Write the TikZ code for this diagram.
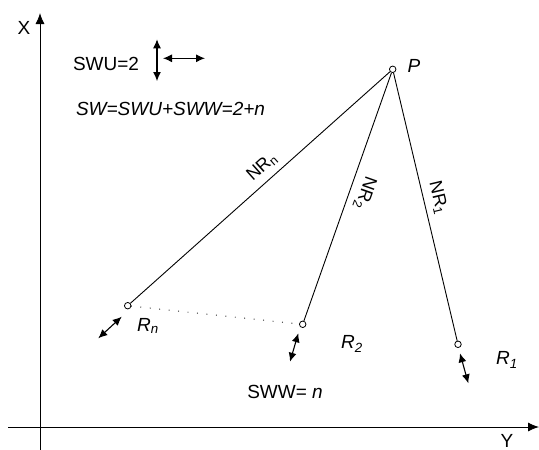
\documentclass[tikz,border=0pt]{standalone}
\usepackage{fontspec}
\setmainfont{Liberation Sans}
\usetikzlibrary{arrows.meta}
\tikzset{
  txt/.style={inner sep=0pt, font=\fontsize{19}{22}\selectfont},
  itxt/.style={inner sep=0pt, font=\fontsize{19}{22}\selectfont\itshape},
  lbl/.style={inner sep=0pt, font=\fontsize{18}{20}\selectfont},
  pt/.style={circle, draw, fill=white, minimum size=6.5pt, inner sep=0pt, line width=0.8pt},
  link/.style={line width=0.9pt},
  axis/.style={line width=0.9pt, -{Latex[length=11pt,width=9pt]}},
  dbl/.style={line width=1.1pt, {Latex[length=9pt,width=8pt]}-{Latex[length=9pt,width=8pt]}}
}
\begin{document}
\begin{tikzpicture}[x=1pt,y=-1pt]
\useasboundingbox (0,0) rectangle (539,450);
% axes
\coordinate (yb) at (40,450);
\coordinate (yt) at (40,13);
\coordinate (xl) at (8,427);
\coordinate (xr) at (539,427);
\draw[axis] (yb) -- (yt);
\draw[axis] (xl) -- (xr);
\node[txt] (X) at (24,28) {X};
\node[txt] (Y) at (507,441) {Y};
% points
\node[pt] (P) at (392.7,69.3) {};
\node[pt] (Rn) at (127.7,305.7) {};
\node[pt] (R2) at (302.7,324.3) {};
\node[pt] (R1) at (458,344.3) {};
\draw[link] (P) -- (Rn);
\draw[link] (P) -- (R2);
\draw[link] (P) -- (R1);
\draw[line width=1.2pt, line cap=round, dash pattern=on 0pt off 9.5pt] (Rn) -- (R2);
% point labels
\node[itxt] (Pl) at (414,66) {P};
\node[itxt] (Rnl) at (148,326) {R\textsubscript{n}};
\node[itxt] (R2l) at (352,344) {R\textsubscript{2}};
\node[itxt] (R1l) at (507,360) {R\textsubscript{1}};
% line labels
\node[lbl, rotate=41.7] (NRn) at (262,167) {NR\textsubscript{n}};
\node[lbl, rotate=-109.4] (NR2) at (365,193) {NR\textsubscript{2}};
\node[lbl, rotate=-76.6] (NR1) at (438,198) {NR\textsubscript{1}};
% double arrows
\coordinate (a1s) at (98.3,338.3);
\coordinate (a1e) at (121.7,316.7);
\draw[dbl] (a1s) -- (a1e);
\coordinate (a2s) at (290,361.7);
\coordinate (a2e) at (298.3,333.3);
\draw[dbl] (a2s) -- (a2e);
\coordinate (a3s) at (460,353.3);
\coordinate (a3e) at (468.3,383.3);
\draw[dbl] (a3s) -- (a3e);
\coordinate (v1) at (157,39.3);
\coordinate (v2) at (157,81);
\draw[dbl] (v1) -- (v2);
\coordinate (h1) at (163,58.3);
\coordinate (h2) at (205,58.3);
\draw[dbl] (h1) -- (h2);
% texts
\node[txt] (swu) at (106,64) {SWU=2};
\node[itxt] (sw) at (170.5,109) {SW=SWU+SWW=2+n};
\node[txt] (sww) at (285,391.5) {SWW= \textit{n}};
\end{tikzpicture}
\end{document}
